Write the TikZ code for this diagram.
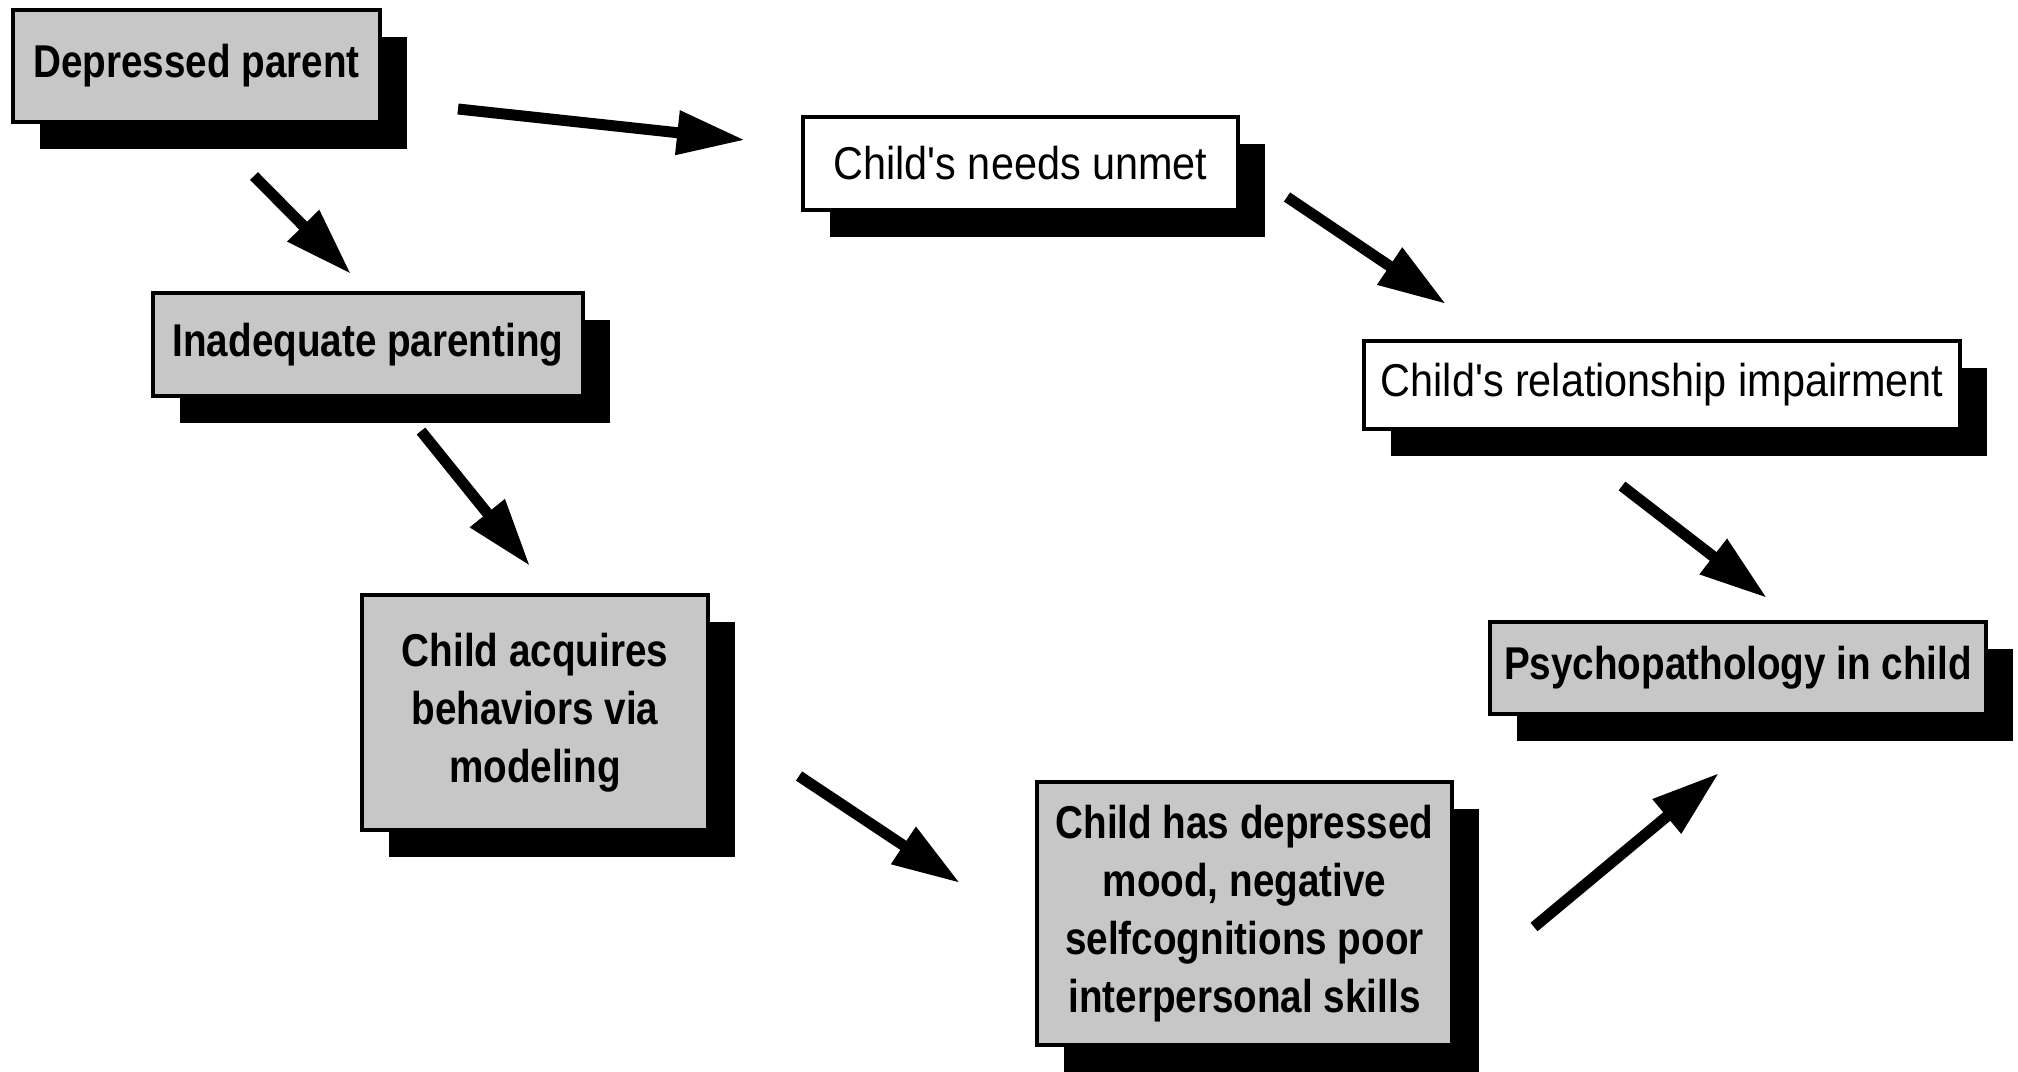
\documentclass[tikz,border=0pt]{standalone}
\usepackage{fontspec}
\setmainfont{Liberation Sans}
\newfontfamily\boldc{Liberation Sans}[FakeStretch=0.84]
\newfontfamily\regc{Liberation Sans}[FakeStretch=0.9]
\usetikzlibrary{arrows.meta,shadows}
\begin{document}
\begin{tikzpicture}[x=1pt,y=-1pt,
 box/.style={draw=black,line width=1.6pt,inner sep=0pt,align=center,
   general shadow={fill=black,shadow xshift=13.5pt,shadow yshift=-13.5pt}},
 gbox/.style={box,fill=black!22,font=\boldc\bfseries\fontsize{23}{29}\selectfont},
 wbox/.style={box,fill=white,font=\regc\fontsize{23}{29}\selectfont},
 arr/.style={line width=5.5pt,-{Triangle[length=34pt,width=21pt]}}]
\useasboundingbox (0,0) rectangle (1009,535.5);

\node[gbox,minimum width=183.5pt,minimum height=56pt] (dp) at (98.25,33) {Depressed parent};
\node[gbox,minimum width=215pt,minimum height=51.5pt] (ip) at (184,172.25) {Inadequate parenting};
\node[gbox,minimum width=173pt,minimum height=117.5pt] (ca) at (267.5,356.25) {Child acquires\\behaviors via\\modeling};
\node[gbox,minimum width=207.5pt,minimum height=131.5pt] (ch) at (622.25,456.75) {Child has depressed\\mood, negative\\selfcognitions poor\\interpersonal skills};
\node[gbox,minimum width=248pt,minimum height=46pt] (ps) at (869,334) {Psychopathology in child};
\node[wbox,minimum width=298pt,minimum height=44pt] (cr) at (831,192.5) {Child's relationship impairment};
\node[wbox,minimum width=217.5pt,minimum height=46.5pt] (cn) at (510.25,81.75) {Child's needs unmet};

\coordinate (a1s) at (229,54.5);   \coordinate (a1e) at (372.5,70);
\coordinate (a2s) at (127,88);     \coordinate (a2e) at (175.5,137);
\coordinate (a3s) at (210.5,215.5);\coordinate (a3e) at (265,283);
\coordinate (a4s) at (399.5,388);  \coordinate (a4e) at (480,441.5);
\coordinate (a5s) at (767,463.5);  \coordinate (a5e) at (859.5,386.5);
\coordinate (a6s) at (811,243);    \coordinate (a6e) at (883.5,299);
\coordinate (a7s) at (643.5,98.5); \coordinate (a7e) at (723,152);

\draw[arr] (a1s) -- (a1e);
\draw[arr] (a2s) -- (a2e);
\draw[arr] (a3s) -- (a3e);
\draw[arr] (a4s) -- (a4e);
\draw[arr] (a5s) -- (a5e);
\draw[arr] (a6s) -- (a6e);
\draw[arr] (a7s) -- (a7e);
\end{tikzpicture}
\end{document}
